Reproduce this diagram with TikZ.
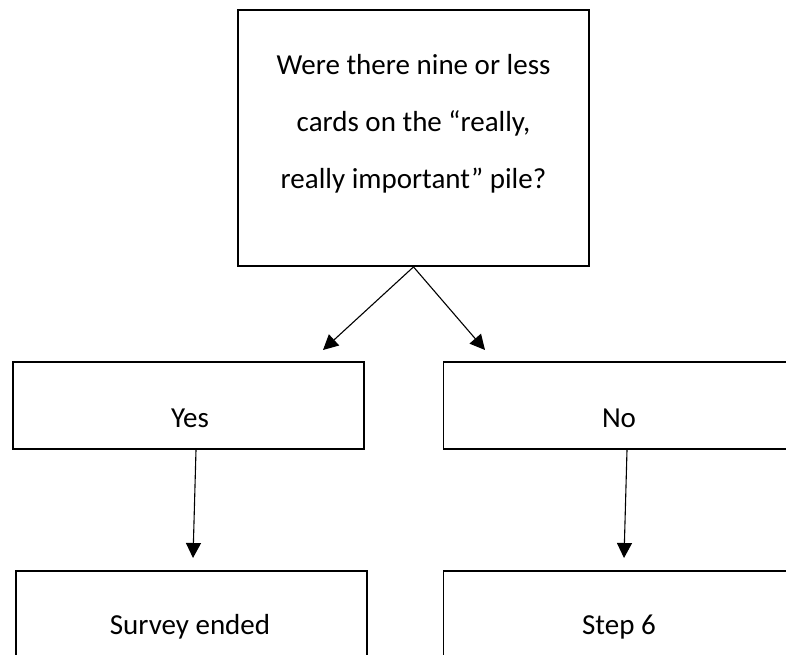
\documentclass[tikz,border=0pt]{standalone}
\usepackage{fontspec}
\setmainfont{Carlito}
\usetikzlibrary{arrows.meta}
\begin{document}
\begin{tikzpicture}[x=1pt,y=-1pt,
  box/.style={draw=black,line width=1.8pt,rectangle,inner sep=0pt,minimum width=351pt},
  txt/.style={font=\fontsize{29}{57}\selectfont,align=center,inner sep=0pt},
  arr/.style={line width=1.1pt,-{Triangle[length=15pt,width=15pt]}}]
\useasboundingbox (0,0) rectangle (786,655);
\node[box,minimum height=256pt] (q) at (413.5,138) {};
\node[txt] (qt) at (413.5,124) {Were there nine or less\\cards on the “really,\\really important” pile?};
\node[box,minimum height=87pt] (yes) at (188.5,405.5) {};
\node[txt] (yest) at (190,418) {Yes};
\node[box,minimum height=87pt] (no) at (619,405.5) {};
\node[txt] (not) at (619,418) {No};
\node[box,minimum height=87pt] (end) at (191.5,614.5) {};
\node[txt] (endt) at (190,627) {Survey ended};
\node[box,minimum height=87pt] (s6) at (619,614.5) {};
\node[txt] (s6t) at (619,627) {Step 6};
\coordinate (a1) at (323,350);
\coordinate (a2) at (485,350);
\coordinate (a3) at (193,558);
\coordinate (a4) at (624,558);
\draw[arr] (q.south) -- (a1);
\draw[arr] (q.south) -- (a2);
\draw[arr] ([xshift=7.5pt]yes.south) -- (a3);
\draw[arr] ([xshift=8pt]no.south) -- (a4);
\end{tikzpicture}
\end{document}
